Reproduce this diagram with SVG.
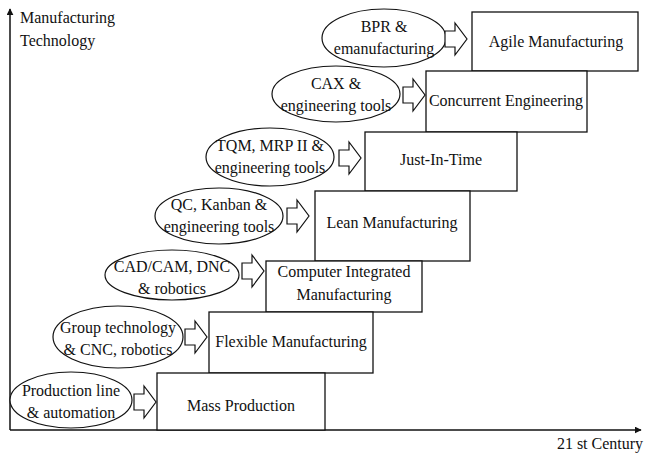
<svg xmlns="http://www.w3.org/2000/svg" width="648" height="455" viewBox="0 0 648 455">
<style>
text{font-family:'Liberation Serif','DejaVu Serif',serif;font-size:16px;fill:#111;text-anchor:middle}
.box{fill:#fff;stroke:#111;stroke-width:1.3}
.ell{fill:#fff;stroke:#111;stroke-width:1.2}
.arr{fill:#fff;stroke:#111;stroke-width:1.2;stroke-linejoin:miter}
.axis{stroke:#111;stroke-width:1.5;fill:none}
</style>
<defs>
<path id="barrow" d="M0,-8 H10 V-16 L22,0 L10,16 V8 H0 Z"/>
<marker id="ah" viewBox="0 0 10 10" refX="9" refY="5" markerWidth="7" markerHeight="7" orient="auto" markerUnits="userSpaceOnUse"><path d="M0,0 L10,5 L0,10 Z" fill="#111"/></marker>
</defs>
<g id="axes" font-family="Liberation Serif, serif">
<line class="axis" x1="10" y1="430" x2="10" y2="9" marker-end="url(#ah)"/>
<line class="axis" x1="10" y1="430" x2="641" y2="430" marker-end="url(#ah)"/>
<text x="20" y="23" style="text-anchor:start">Manufacturing</text>
<text x="20" y="46" style="text-anchor:start">Technology</text>
<text x="600" y="449">21 st Century</text>
</g>
<g id="box-agile"><rect class="box" x="472" y="12" width="166" height="59"/><text x="556" y="47">Agile Manufacturing</text></g>
<g id="box-concurrent"><rect class="box" x="426" y="71" width="161" height="61"/><text x="506" y="106">Concurrent Engineering</text></g>
<g id="box-jit"><rect class="box" x="365" y="132" width="152" height="59"/><text x="441" y="165">Just-In-Time</text></g>
<g id="box-lean"><rect class="box" x="315" y="191" width="155" height="70"/><text x="392" y="228">Lean Manufacturing</text></g>
<g id="box-cim"><rect class="box" x="266" y="261" width="156" height="51"/><text x="344" y="277">Computer Integrated</text><text x="344" y="300">Manufacturing</text></g>
<g id="box-flexible"><rect class="box" x="209" y="312" width="164" height="61"/><text x="291" y="347">Flexible Manufacturing</text></g>
<g id="box-mass"><rect class="box" x="157" y="373" width="168" height="57"/><text x="241" y="411">Mass Production</text></g>
<g id="ell-bpr"><ellipse class="ell" cx="384" cy="38" rx="62" ry="29"/><text x="384" y="32">BPR &amp;</text><text x="384" y="54">emanufacturing</text></g>
<g id="ell-cax"><ellipse class="ell" cx="336" cy="94" rx="64" ry="28"/><text x="336" y="89">CAX &amp;</text><text x="336" y="111">engineering tools</text></g>
<g id="ell-tqm"><ellipse class="ell" cx="270" cy="157" rx="64" ry="29"/><text x="270" y="151">TQM, MRP II &amp;</text><text x="270" y="173">engineering tools</text></g>
<g id="ell-qc"><ellipse class="ell" cx="219" cy="216" rx="64" ry="28"/><text x="219" y="210">QC, Kanban &amp;</text><text x="219" y="232">engineering tools</text></g>
<g id="ell-cad"><ellipse class="ell" cx="172" cy="275" rx="67" ry="25"/><text x="172" y="272">CAD/CAM, DNC</text><text x="172" y="294">&amp; robotics</text></g>
<g id="ell-group"><ellipse class="ell" cx="118" cy="337" rx="65" ry="31"/><text x="118" y="333">Group technology</text><text x="118" y="355">&amp; CNC, robotics</text></g>
<g id="ell-production"><ellipse class="ell" cx="71" cy="400" rx="61" ry="28"/><text x="71" y="396">Production line</text><text x="71" y="418">&amp; automation</text></g>
<g id="connectors">
<use href="#barrow" class="arr" x="445" y="39"/>
<use href="#barrow" class="arr" x="403" y="95"/>
<use href="#barrow" class="arr" x="339" y="158"/>
<use href="#barrow" class="arr" x="287" y="216"/>
<use href="#barrow" class="arr" x="242" y="271"/>
<use href="#barrow" class="arr" x="185" y="337"/>
<use href="#barrow" class="arr" x="134" y="402"/>
</g>
</svg>
